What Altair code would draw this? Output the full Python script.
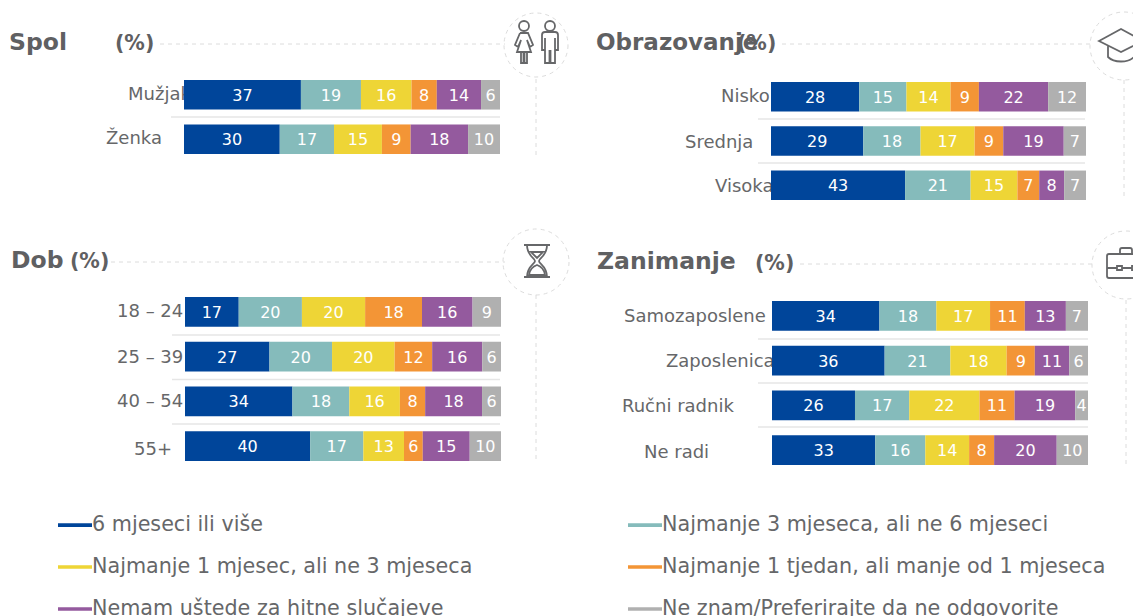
import altair as alt
import pandas as pd

FONT = "DejaVu Sans"
GREY = "#666769"
TITLE_GREY = "#5f6062"
LINE = "#dcdcdc"

series = ["6 mjeseci ili više", "Najmanje 3 mjeseca, ali ne 6 mjeseci",
          "Najmanje 1 mjesec, ali ne 3 mjeseca", "Najmanje 1 tjedan, ali manje od 1 mjeseca",
          "Nemam uštede za hitne slučajeve", "Ne znam/Preferirajte da ne odgovorite"]
colors = ["#00459A", "#85BBBB", "#EED536", "#F39536", "#945A9E", "#B0B0B0"]

spol_labels = ["Mužjak", "Ženka"]
spol_values = [[37, 19, 16, 8, 14, 6], [30, 17, 15, 9, 18, 10]]
obr_labels = ["Nisko", "Srednja", "Visoka"]
obr_values = [[28, 15, 14, 9, 22, 12], [29, 18, 17, 9, 19, 7], [43, 21, 15, 7, 8, 7]]
dob_labels = ["18 – 24", "25 – 39", "40 – 54", "55+"]
dob_values = [[17, 20, 20, 18, 16, 9], [27, 20, 20, 12, 16, 6], [34, 18, 16, 8, 18, 6], [40, 17, 13, 6, 15, 10]]
zan_labels = ["Samozaposlene (", "Zaposlenica", "Ručni radnik", "Ne radi"]
zan_values = [[34, 18, 17, 11, 13, 7], [36, 21, 18, 9, 11, 6], [26, 17, 22, 11, 19, 4], [33, 16, 14, 8, 20, 10]]

legend = alt.Legend(title=None, orient="none", direction="horizontal", legendX=50, legendY=500, columns=2,
                    columnPadding=155, rowPadding=15, labelFont=FONT, labelFontSize=20.7,
                    labelColor=GREY, labelLimit=600, labelOffset=0, symbolSize=1156,
                    symbolType="M-1,-0.11H1V0.11H-1Z", symbolStrokeWidth=0, padding=0)
color = alt.Color("series:N", scale=alt.Scale(domain=series, range=colors), legend=legend)
ONE = alt.Data(values=[{"a": 0}])


def px(v):
    return alt.value(v - 8)


def frame(labels, values):
    rows = []
    for lab, vals in zip(labels, values):
        total, run = sum(vals), 0
        for name, v in zip(series, vals):
            rows.append(dict(cat=lab, series=name, v=str(v), x0=run / total,
                             x1=(run + v) / total, mid=(run + v / 2) / total))
            run += v
    return pd.DataFrame(rows)


def text(s, x, y, size, weight="normal", col=GREY, align="left"):
    return alt.Chart(ONE).mark_text(text=s, font=FONT, fontSize=size, fontWeight=weight, color=col,
                                    align=align, baseline="middle").encode(x=px(x), y=px(y))


def hrule(x1, x2, y, col=LINE, dash=None, w=1.0):
    kw = dict(strokeDash=dash) if dash else {}
    return alt.Chart(ONE).mark_rule(color=col, strokeWidth=w, **kw).encode(x=px(x1), x2=px(x2), y=px(y))


def vrule(x, y1, y2):
    return alt.Chart(ONE).mark_rule(color=LINE, strokeWidth=1, strokeDash=[4, 4]).encode(x=px(x), y=px(y1), y2=px(y2))


def circle(x, y, r):
    return alt.Chart(ONE).mark_point(shape="circle", size=4 * r * r, filled=False, color=LINE,
                                     strokeWidth=1, strokeDash=[4, 4], opacity=1).encode(x=px(x), y=px(y))


def icon(path, x, y):
    return alt.Chart(ONE).mark_point(shape=path, size=4, filled=False, color=GREY, strokeWidth=1.8,
                                     opacity=1).encode(x=px(x), y=px(y))


def panel(labels, values, xr, yr, lab_x, lab_dy):
    df = frame(labels, values)
    xs = alt.Scale(domain=[0, 1], range=[xr[0] - 8, xr[1] - 8], nice=False, zero=False)
    ys = alt.Scale(type="band", domain=labels, range=[yr[0] - 8, yr[1] - 8], paddingInner=0.335, paddingOuter=0)
    X = lambda f: alt.X(f, scale=xs, axis=None)
    Y = alt.Y("cat:N", scale=ys, axis=None, sort=labels)
    out = []
    for lab, lx, dy in zip(labels, lab_x, lab_dy):
        out.append(alt.Chart(df[df.cat == lab].head(1)).mark_text(
            font=FONT, fontSize=18, color=GREY, align="left", baseline="middle", dy=dy
        ).encode(x=px(lx), y=Y, text="cat:N"))
    out.append(alt.Chart(df).mark_bar().encode(x=X("x0:Q"), x2="x1:Q", y=Y, color=color))
    out.append(alt.Chart(df).mark_text(font=FONT, fontSize=16, color="white", baseline="middle", dy=1)
               .encode(x=X("mid:Q"), y=Y, text="v:N"))
    return out


C = lambda cx, cy, r: f"M{cx - r},{cy}a{r},{r} 0 1,0 {2 * r},0a{r},{r} 0 1,0 {-2 * r},0"
people = (C(-13, -16, 5) + "M-17,-9H-9L-4,3L-7,5L-10,-2M-16,-2L-19,5L-22,3L-17,-9"
          "M-16,-2L-20,10H-6L-10,-2M-16,10V21H-13.5V10M-12.5,10V21H-10V10"
          + C(13, -16, 5) + "M5,-7Q5,-10 8,-10H18Q21,-10 21,-7V8H18V-4M8,-4V8H5V-7"
          "M8,8V21H12.5V8M13.5,8V21H18V8")
hourglass = ("M-13,-16H13M-13,16H13M-10,-16C-10,-5 -2,-3 -2,0C-2,3 -10,5 -10,16"
             "M10,-16C10,-5 2,-3 2,0C2,3 10,5 10,16M-6,-9H6L0,-3ZM-8,14C-7,7 -3,5 0,4C3,5 7,7 8,14Z")
cap = ("M-25,-3L-3,-15L19,-3L-3,8ZM-16,2V13C-10,19 4,19 10,13V2M17,-2V12M15,17L17,11L19,17Z")
case = ("M-19,-10Q-19,-12 -17,-12H21Q23,-12 23,-10V10Q23,12 21,12H-17Q-19,12 -19,10Z"
        "M-19,2H-9M-4,2H6M11,2H23M-9,0H-4V4H-9ZM6,0H11V4H6ZM-6,-12V-16Q-6,-18 -4,-18H4Q6,-18 6,-16V-12")

SEP = "#e6e6e6"
layers = [
    # decoration
    hrule(160, 505, 44, dash=[4, 4]), hrule(782, 1090, 44, dash=[4, 4]),
    hrule(111, 505, 262, dash=[4, 4]), hrule(800, 1095, 264, dash=[4, 4]),
    vrule(536, 79, 155), vrule(1124, 80, 200), vrule(536, 295, 460), vrule(1126, 300, 465),
    circle(536, 45, 32), circle(1124, 46, 34), circle(536, 262, 33), circle(1126, 265, 34),
    icon(people, 537, 42), icon(hourglass, 537, 261), icon(cap, 1124, 44), icon(case, 1126, 266),
    text("Spol", 9, 43, 23.5, "bold", TITLE_GREY), text("(%)", 115, 44, 20.5, "bold", TITLE_GREY),
    text("Obrazovanje", 596, 43, 23, "bold", TITLE_GREY), text("(%)", 737, 44, 20.5, "bold", TITLE_GREY),
    text("Dob", 11, 261, 23.5, "bold", TITLE_GREY), text("(%)", 70, 262, 20.5, "bold", TITLE_GREY),
    text("Zanimanje", 597, 262, 23.5, "bold", TITLE_GREY), text("(%)", 755, 264, 20.5, "bold", TITLE_GREY),
    hrule(171, 500, 117, SEP, w=1.5),
    hrule(758, 1085, 119, SEP, w=1.5), hrule(758, 1085, 163, SEP, w=1.5),
    hrule(172, 500, 335, SEP, w=1.5), hrule(172, 500, 379.5, SEP, w=1.5), hrule(172, 500, 424, SEP, w=1.5),
    hrule(758, 1088, 339, SEP, w=1.5), hrule(758, 1088, 383, SEP, w=1.5), hrule(758, 1088, 427, SEP, w=1.5),
]
layers += panel(spol_labels, spol_values, (184, 500), (80, 154), [128, 106], [0, 0])
layers += panel(obr_labels, obr_values, (771, 1086), (82, 200), [721, 685, 715], [0, 1.5, 2])
layers += panel(dob_labels, dob_values, (185, 501), (297, 461), [117, 117, 117, 134], [0, 1, 1, 4])
layers += panel(zan_labels, zan_values, (772, 1088), (301, 465), [624, 666, 622, 644], [1, 1, 2, 3])

chart = (alt.layer(*layers)
         .resolve_scale(x="independent", y="independent")
         .properties(width=1125, height=608, padding=0,
                     autosize=alt.AutoSizeParams(type="none", contains="padding"))
         .configure_view(stroke=None))

chart.save("out.html", embed_options={"renderer": "svg", "actions": False})
